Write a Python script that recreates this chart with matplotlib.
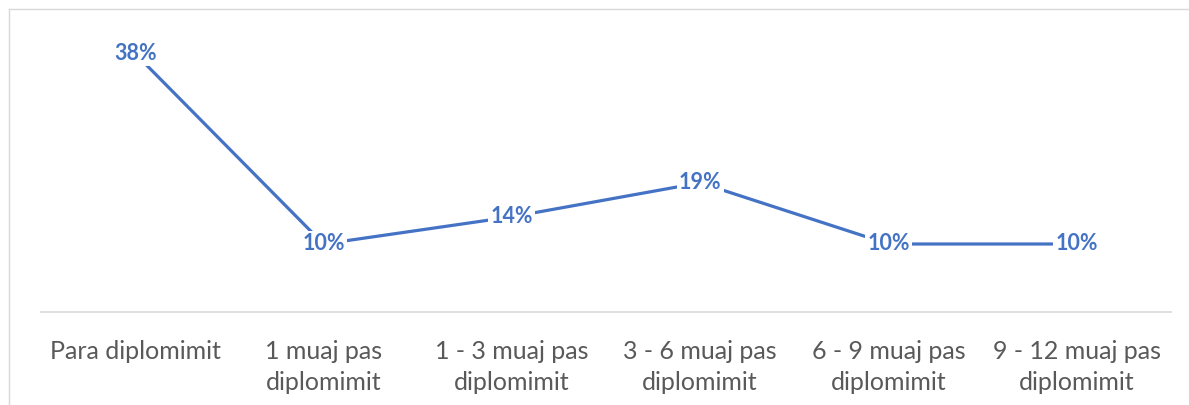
import matplotlib.pyplot as plt
from matplotlib.lines import Line2D

# Data

CATEGORIES = [
    "Para diplomimit",
    "1 muaj pas\ndiplomimit",
    "1 - 3 muaj pas\ndiplomimit",
    "3 - 6 muaj pas\ndiplomimit",
    "6 - 9 muaj pas\ndiplomimit",
    "9 - 12 muaj pas\ndiplomimit",
]
VALUES = [38, 10, 14, 19, 10, 10]

LINE_COLOR = "#4472C4"
TEXT_COLOR = "#595959"

plt.rcParams["font.family"] = ["Lato", "DejaVu Sans"]

fig = plt.figure(figsize=(11.89, 4.05), dpi=100)
ax = fig.add_axes([41 / 1189, 1 - 312 / 405, (1171 - 41) / 1189, 272 / 405])

x = list(range(len(CATEGORIES)))
ax.plot(x, VALUES, color=LINE_COLOR, linewidth=2.3, solid_capstyle="butt", zorder=2)

for xi, v in zip(x, VALUES):
    ax.text(
        xi, v, f"{v}%",
        ha="center", va="center",
        fontsize=15.5, fontweight="bold", color=LINE_COLOR,
        bbox=dict(facecolor="white", edgecolor="none", pad=1.5),
        zorder=3,
    )

ax.set_xlim(-0.5, len(CATEGORIES) - 0.5)
ax.set_ylim(0, 40)
ax.set_xticks(x)
ax.set_xticklabels(CATEGORIES, fontsize=18, color=TEXT_COLOR, linespacing=1.45)
ax.set_yticks([])
ax.tick_params(axis="x", length=0, pad=20)

for side in ["top", "right", "left"]:
    ax.spines[side].set_visible(False)
ax.spines["bottom"].set_color("#D9D9D9")
ax.spines["bottom"].set_linewidth(1.2)

# chart area border (left and top edges visible)
fig.add_artist(Line2D([9 / 1189, 9 / 1189], [0, 1 - 9 / 405], color="#D9D9D9", linewidth=1.0))
fig.add_artist(Line2D([9 / 1189, 1], [1 - 9 / 405, 1 - 9 / 405], color="#D9D9D9", linewidth=1.0))

fig.savefig("out.png", dpi=100)
